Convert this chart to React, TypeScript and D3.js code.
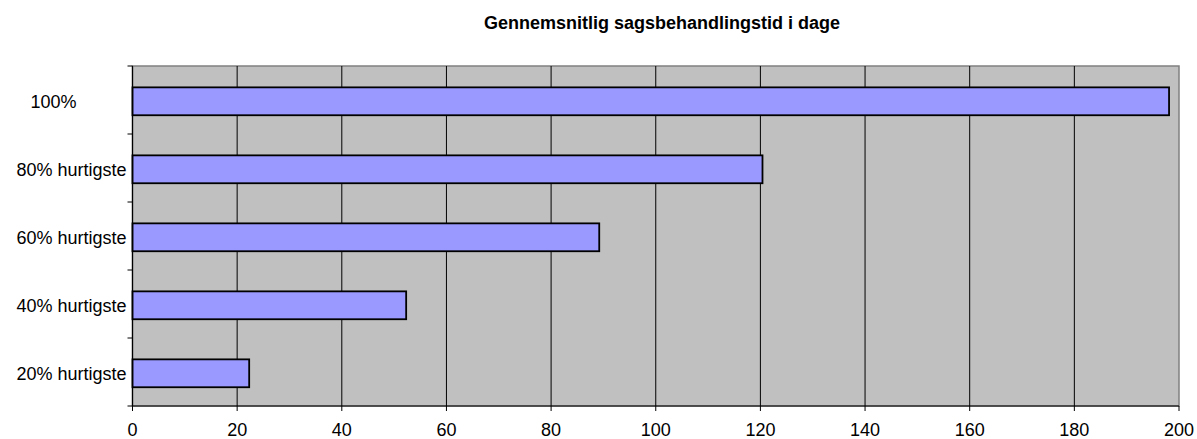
import React from 'react';
import * as d3 from 'd3';

// kategorier oppefra og ned (etiketten "100%" har efterstillede mellemrum som i originalen)
const kategorier = ['100%          ', '80% hurtigste', '60% hurtigste', '40% hurtigste', '20% hurtigste'];
const dage = [198.1, 120.4, 89.2, 52.3, 22.3];
const akseTicks = [0, 20, 40, 60, 80, 100, 120, 140, 160, 180, 200];
const titel = 'Gennemsnitlig sagsbehandlingstid i dage';

export default function App() {
  const bredde = 1197;
  const hoejde = 439;
  const venstre = 132.5;
  const hoejre = 1179;
  const top = 66;
  const bund = 406;

  const x = d3.scaleLinear().domain([0, 200]).range([venstre, hoejre]);
  const y = d3.scaleBand<string>()
    .domain(kategorier)
    .range([top + 1.3, bund + 1.3])
    .paddingInner(0.59)
    .paddingOuter(0.295);
  const trin = (bund - top) / kategorier.length;

  const font = 'Liberation Sans, Arial, sans-serif';

  return (
    <svg
      width={bredde}
      height={hoejde}
      style={{ position: 'absolute', left: 0, top: 0, background: '#fff' }}
    >
      <text
        x={662}
        y={29}
        textAnchor="middle"
        fontFamily={font}
        fontWeight="bold"
        fontSize={18}
        fill="#000"
      >
        {titel}
      </text>

      {/* plotområde */}
      <rect x={venstre} y={top} width={hoejre - venstre} height={bund - top} fill="#C0C0C0" stroke="#808080" strokeWidth={1.5} />

      {akseTicks.slice(1, -1).map(t => (
        <line key={'g' + t} x1={x(t)} x2={x(t)} y1={top} y2={bund} stroke="#000" strokeWidth={1} />
      ))}

      {kategorier.map((k, i) => (
        <rect
          key={k}
          x={x(0)}
          y={y(k)}
          width={x(dage[i]) - x(0)}
          height={y.bandwidth()}
          fill="#9999FF"
          stroke="#000"
          strokeWidth={1.8}
        />
      ))}

      {/* akser */}
      <line x1={venstre} x2={venstre} y1={top} y2={bund} stroke="#000" strokeWidth={1.2} />
      <line x1={venstre} x2={hoejre} y1={bund} y2={bund} stroke="#000" strokeWidth={1.2} />

      {d3.range(kategorier.length + 1).map(i => (
        <line key={'yt' + i} x1={venstre - 5} x2={venstre} y1={top + i * trin} y2={top + i * trin} stroke="#000" strokeWidth={1} />
      ))}

      {kategorier.map(k => (
        <text
          key={'l' + k}
          x={126.5}
          y={(y(k) ?? 0) + y.bandwidth() / 2 + 6.5}
          textAnchor="end"
          fontFamily={font}
          fontSize={18}
          fill="#000"
          style={{ whiteSpace: 'pre' }}
        >
          {k}
        </text>
      ))}

      {akseTicks.map(t => (
        <g key={'xt' + t}>
          <line x1={x(t)} x2={x(t)} y1={bund} y2={bund + 5} stroke="#000" strokeWidth={1} />
          <text x={x(t)} y={436} textAnchor="middle" fontFamily={font} fontSize={18} fill="#000">
            {t}
          </text>
        </g>
      ))}
    </svg>
  );
}
